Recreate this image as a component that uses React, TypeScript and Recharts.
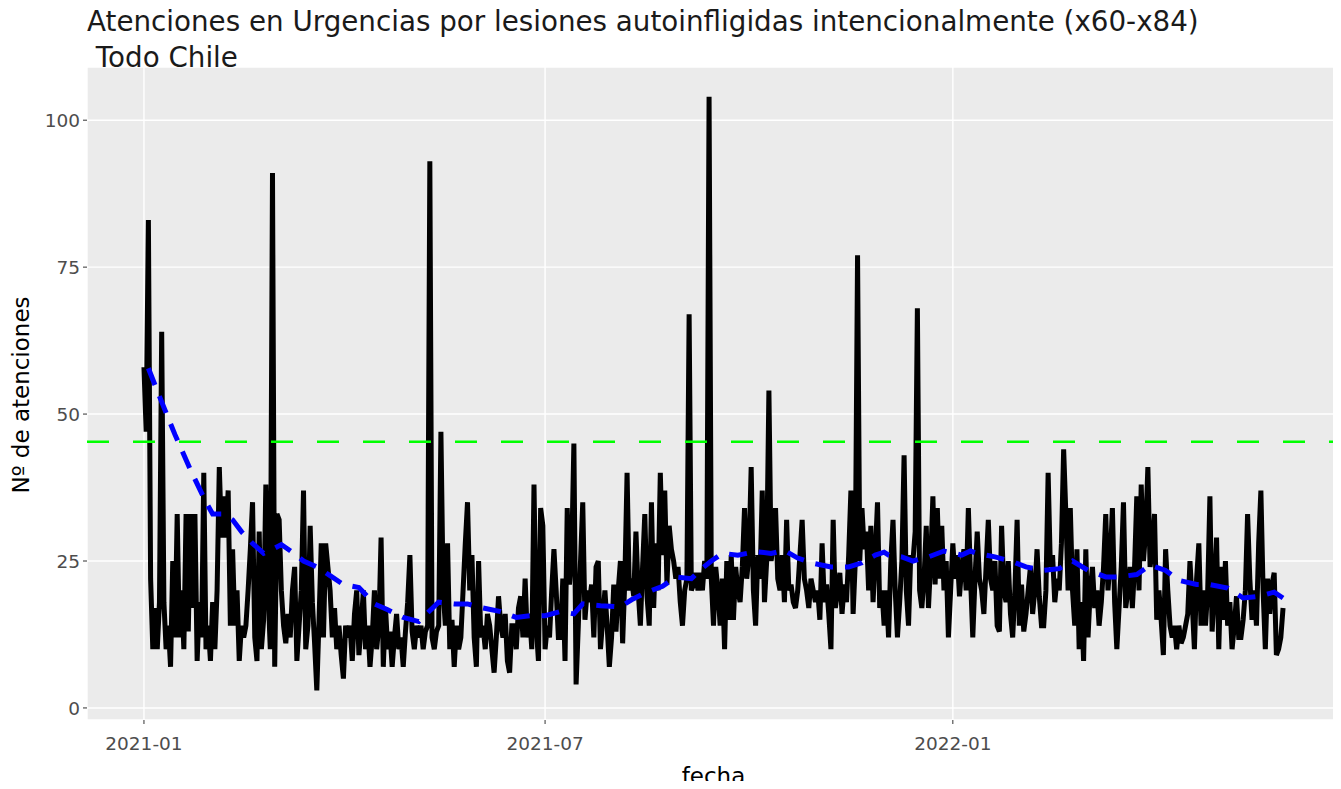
import React from 'react';
import { ComposedChart, Line, XAxis, YAxis, CartesianGrid, ReferenceLine } from 'recharts';

// Daily counts starting 2021-01-01 (index = days since 2021-01-01)
const dailyCounts: number[] = [
  // 2021-01-01 .. d40
  58, 47, 83, 22, 10, 17, 10, 18, 64, 18, 10, 14, 7, 25, 12, 33, 12, 20, 10, 33, 13, 33, 17, 33, 8, 18, 12, 40, 10, 14, 8, 18, 10, 20, 41, 29, 36, 29, 37, 14, 27,
  // d41 .. d83
  14, 20, 8, 14, 12, 14, 20, 27, 35, 12, 8, 30, 10, 15, 38, 20, 10, 91, 7, 33, 32, 20, 14, 11, 16, 12, 20, 24, 8, 14, 20, 37, 10, 14, 31, 18, 11, 3, 15, 28, 12, 28, 24,
  // d84 .. d128
  20, 12, 17, 10, 14, 9, 5, 14, 12, 14, 8, 16, 20, 9, 14, 20, 10, 14, 7, 12, 20, 10, 14, 29, 7, 17, 10, 13, 7, 12, 16, 10, 12, 7, 13, 18, 26, 13, 10, 14, 12, 14, 10, 13, 14,
  // d129 .. d171
  93, 12, 10, 13, 14, 47, 20, 14, 28, 10, 15, 7, 14, 10, 12, 20, 28, 35, 20, 26, 12, 7, 25, 12, 14, 10, 16, 14, 10, 6, 12, 19, 14, 12, 16, 8, 6, 14, 14, 10, 17, 19, 12,
  // d172 .. d215
  22, 12, 16, 10, 38, 14, 8, 34, 31, 10, 14, 12, 20, 27, 20, 12, 12, 22, 8, 34, 21, 26, 45, 4, 14, 25, 35, 15, 20, 18, 21, 12, 24, 25, 10, 15, 20, 14, 7, 12, 21, 13, 20, 25,
  // d216 .. d259
  11, 22, 40, 20, 22, 19, 30, 20, 14, 24, 33, 19, 14, 35, 17, 28, 20, 40, 26, 37, 21, 31, 27, 25, 22, 24, 18, 14, 20, 22, 67, 20, 21, 23, 20, 23, 20, 25, 22, 104, 22, 14, 24, 20,
  // d260 .. d303
  14, 22, 10, 25, 15, 26, 15, 24, 20, 18, 24, 34, 22, 26, 41, 20, 14, 26, 22, 37, 18, 25, 54, 25, 28, 34, 22, 20, 26, 18, 32, 20, 21, 18, 17, 20, 26, 32, 22, 20, 17, 22, 20, 18,
  // d304 .. d346
  20, 15, 28, 18, 21, 16, 10, 32, 17, 20, 23, 16, 21, 18, 26, 37, 16, 25, 77, 25, 34, 27, 30, 20, 31, 18, 26, 35, 17, 20, 14, 20, 12, 25, 32, 20, 12, 18, 25, 43, 20, 14, 26,
  // d347 .. d390
  25, 30, 68, 20, 17, 22, 31, 17, 25, 36, 21, 34, 22, 31, 20, 25, 12, 20, 28, 22, 26, 19, 24, 27, 20, 34, 22, 12, 22, 30, 22, 20, 16, 24, 32, 22, 20, 25, 14, 13, 31, 20, 18, 25,
  // d391 .. d434
  16, 12, 20, 32, 14, 21, 13, 16, 20, 24, 16, 20, 27, 19, 14, 14, 20, 40, 24, 26, 18, 22, 20, 28, 44, 33, 20, 34, 20, 14, 27, 10, 18, 8, 27, 12, 20, 24, 17, 20, 14, 18, 24, 33,
  // d435 .. d478
  20, 25, 34, 18, 10, 17, 24, 35, 17, 20, 24, 17, 24, 36, 20, 38, 25, 30, 41, 24, 27, 33, 15, 20, 15, 9, 27, 20, 14, 12, 14, 10, 14, 11, 12, 14, 16, 25, 18, 10, 22, 28, 14, 20,
  // d479 .. d514
  14, 20, 36, 13, 20, 29, 10, 24, 15, 25, 14, 18, 10, 14, 19, 12, 12, 15, 20, 33, 22, 15, 20, 14, 28, 37, 20, 10, 22, 16, 21, 23, 9, 10, 12, 17,
];

// Smoothed trend (blue dashed), day index and value
const trendDays: number[] = [
  2, 7, 14, 21, 28, 31, 36, 40, 44, 49, 54, 57, 62, 67, 72, 78, 84, 90, 97, 104, 110, 117, 124, 128,
  133, 140, 146, 153, 161, 168, 174, 181, 188, 194, 198, 206, 215, 220, 227, 234, 240, 247, 252, 256,
  261, 268, 276, 283, 289, 295, 302, 310, 318, 324, 330, 334, 336, 342, 347, 354, 361, 369, 373, 376,
  384, 391, 398, 406, 413, 419, 426, 434, 440, 448, 454, 461, 467, 475, 481, 489, 496, 503, 510, 514,
];
const trendValues: number[] = [
  57.8, 53, 46.5, 40.5, 35, 33, 33, 32, 30, 28, 26.3, 26.8, 27.8, 26.5, 25, 24, 22.5, 21, 20.5, 17.7, 16.7, 15.4, 14.7, 16.2,
  18, 17.7, 17.7, 17, 16.4, 15.4, 15.7, 15.7, 16.4, 16, 17.7, 17.4, 17.2, 18.4, 19.7, 20.7, 22.3, 22, 23.8, 25,
  26.3, 26, 26.6, 26.3, 26.8, 25.5, 24.6, 24, 24, 24.7, 26, 26.5, 26, 25.7, 25, 25.7, 26.7, 26, 26.7, 26.3,
  25.7, 25, 24, 23.4, 23.7, 25, 23.4, 22.3, 22.3, 22.7, 24.3, 23.4, 21.7, 21, 21, 20.4, 18.7, 19, 19.7, 18.7,
];

const referenceValue = 45.3;
const xTickDays: number[] = [0, 181, 365];
const xTickLabels: string[] = ['2021-01', '2021-07', '2022-01'];
const yTicks: number[] = [0, 25, 50, 75, 100];
const titleLine1 = 'Atenciones en Urgencias por lesiones autoinfligidas intencionalmente (x60-x84)';
const titleLine2 = ' Todo Chile';
const xTitle = 'fecha';
const yTitle = 'Nº de atenciones';

const chartData = dailyCounts.map((v, d) => ({ d, v, t: null as number | null }));
trendDays.forEach((td, i) => {
  chartData[td].t = trendValues[i];
});

const FONT = '"DejaVu Sans", Verdana, sans-serif';

export default function App() {
  const W = 1333;
  const H = 773;
  return (
    <div style={{ position: 'relative', width: W, height: H + 8, marginBottom: -8, background: '#FFFFFF', fontFamily: FONT }}>
      <ComposedChart width={W} height={H} data={chartData} margin={{ top: 59, right: 1, bottom: 21, left: 19 }}>
        <CartesianGrid fill="#EBEBEB" stroke="#FFFFFF" strokeWidth={1.4} />
        <XAxis
          dataKey="d"
          type="number"
          domain={[-25.7, 539.7]}
          allowDataOverflow
          ticks={xTickDays}
          interval={0}
          tickFormatter={(d: number) => xTickLabels[xTickDays.indexOf(d)] ?? ''}
          axisLine={false}
          tickLine={{ stroke: '#333333' }}
          tickSize={4}
          tickMargin={13}
          height={40}
          tick={{ fill: '#4D4D4D', fontSize: 18.5, fontFamily: FONT }}
        />
        <YAxis
          type="number"
          domain={[-2.05, 109.05]}
          allowDataOverflow
          ticks={yTicks}
          interval={0}
          axisLine={false}
          tickLine={{ stroke: '#333333' }}
          tickSize={4}
          tickMargin={3}
          width={60}
          tick={{ fill: '#4D4D4D', fontSize: 18.5, fontFamily: FONT }}
        />
        <Line
          dataKey="v"
          type="linear"
          stroke="#000000"
          strokeWidth={5}
          dot={false}
          activeDot={false}
          isAnimationActive={false}
        />
        <ReferenceLine y={referenceValue} stroke="#00FF00" strokeWidth={2.5} strokeDasharray="22 24" />
        <Line
          dataKey="t"
          type="linear"
          stroke="#0000FF"
          strokeWidth={5}
          strokeDasharray="18 12"
          connectNulls
          dot={false}
          activeDot={false}
          isAnimationActive={false}
        />
      </ComposedChart>
      <div style={{ position: 'absolute', left: 79, top: 0, fontSize: 27.75, lineHeight: 1, color: '#1A1A1A', whiteSpace: 'pre' }}>{titleLine1}</div>
      <div style={{ position: 'absolute', left: 79, top: 36, fontSize: 27.75, lineHeight: 1, color: '#1A1A1A', whiteSpace: 'pre' }}>{titleLine2}</div>
      <div style={{ position: 'absolute', left: 705.5, top: 757, transform: 'translateX(-50%)', fontSize: 23, lineHeight: 1, color: '#000000', whiteSpace: 'pre' }}>{xTitle}</div>
      <div style={{ position: 'absolute', left: 13, top: 386.5, transform: 'translate(-50%, -50%) rotate(-90deg)', fontSize: 23, lineHeight: 1, color: '#000000', whiteSpace: 'pre' }}>{yTitle}</div>
    </div>
  );
}
